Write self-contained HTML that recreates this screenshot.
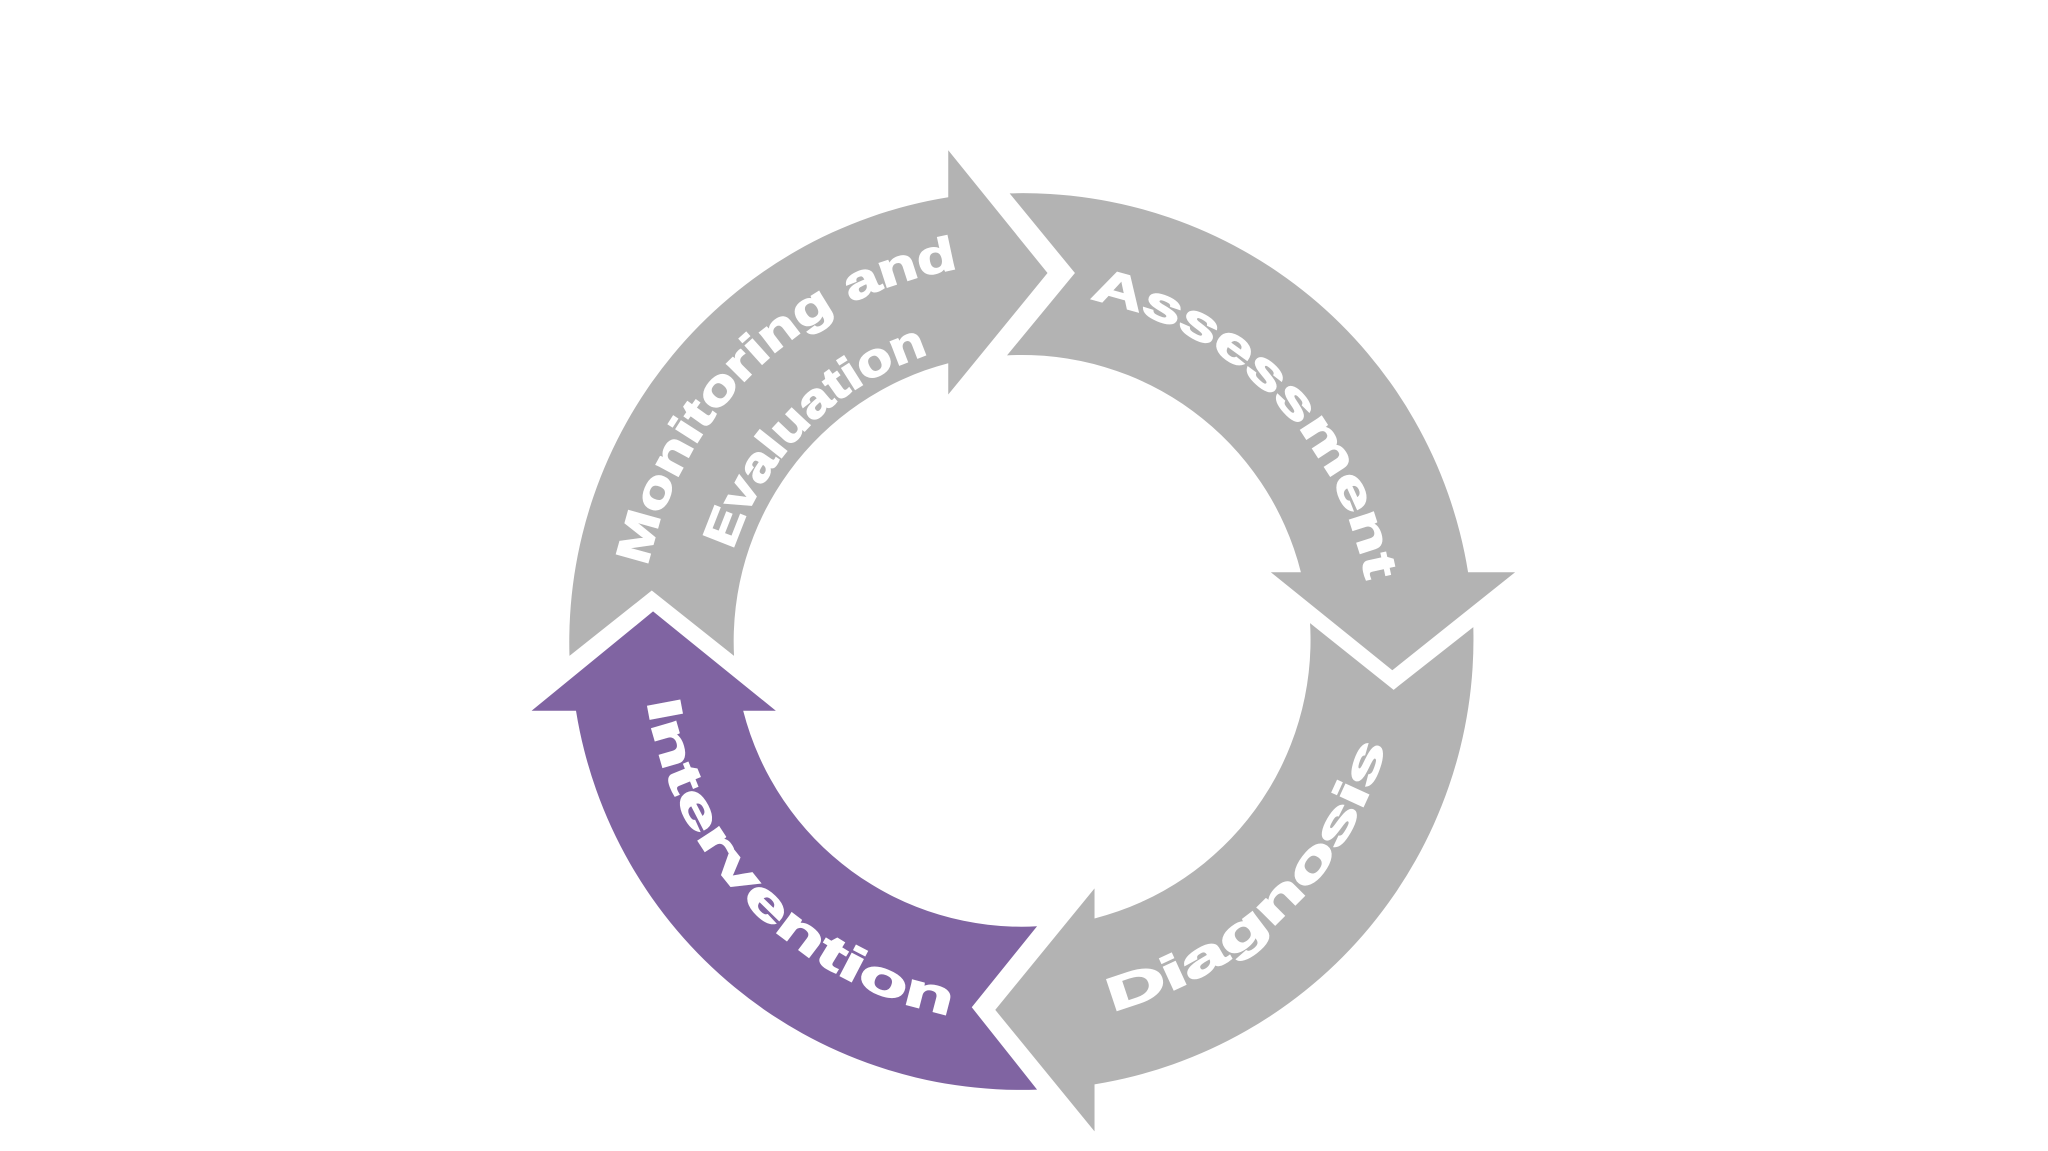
<!DOCTYPE html>
<html><head><meta charset="utf-8"><style>
html,body{margin:0;padding:0;background:#fff;}
svg{display:block;}
text{font-family:"Liberation Sans",sans-serif;font-weight:bold;fill:#fff;stroke:#fff;stroke-width:1.2px;font-size:36px;}
</style></head><body>
<svg width="2048" height="1151" viewBox="0 0 1568 881" preserveAspectRatio="none" xmlns="http://www.w3.org/2000/svg">
<defs>
<path id="pA" d="M782,224 A268 268 0 0 1 1050,496.7"/>
<path id="pD" d="M777,782 A290 290 0 0 0 1072,497"/>
<path id="pI" d="M492,487 A290 290 0 0 0 777,782"/>
<path id="pM" d="M490,487 A290 290 0 0 1 787.1,202"/>
<path id="pE" d="M550,492 A232 232 0 0 1 782,260"/>
</defs>
<path fill="#b3b3b3" d="M436,502 L499,452 L562,502 A220 220 0 0 1 726,278 L726,302 L802,209 L726,115 L726,151 A345 345 0 0 0 436,502 Z"/>
<path fill="#b3b3b3" d="M773,148 L823,209 L771,272 A220 220 0 0 1 996,438 L973,438 L1066,513 L1160,438 L1124,438 A345 345 0 0 0 773,148 Z"/>
<path fill="#b3b3b3" d="M1128,480 L1067,528 L1003,477 A220 220 0 0 1 838,703 L838,680 L762,773 L838,866 L838,830 A345 345 0 0 0 1128,480 Z"/>
<path fill="#8064a2" d="M794,709 L744,771 L794,834 A345 345 0 0 1 441,544 L407,544 L500,468 L594,544 L569,544 A220 220 0 0 0 794,709 Z"/>
<text><textPath href="#pA" startOffset="50%" text-anchor="middle" textLength="320" lengthAdjust="spacingAndGlyphs">Assessment</textPath></text>
<text><textPath href="#pD" startOffset="50%" text-anchor="middle" textLength="305" lengthAdjust="spacingAndGlyphs">Diagnosis</textPath></text>
<text><textPath href="#pI" startOffset="50%" text-anchor="middle" textLength="355" lengthAdjust="spacingAndGlyphs">Intervention</textPath></text>
<text><textPath href="#pM" startOffset="50%" text-anchor="middle" textLength="350" lengthAdjust="spacingAndGlyphs">Monitoring and</textPath></text>
<text><textPath href="#pE" startOffset="50%" text-anchor="middle" textLength="220" lengthAdjust="spacingAndGlyphs">Evaluation</textPath></text>
</svg>
</body></html>
